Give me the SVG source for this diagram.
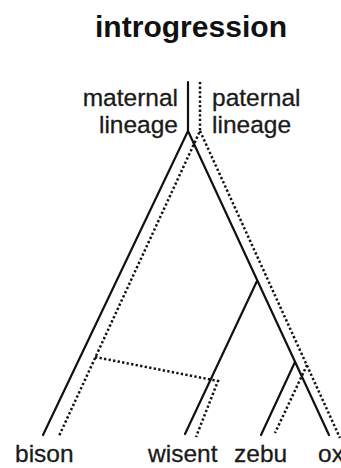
<svg xmlns="http://www.w3.org/2000/svg" width="341" height="468" viewBox="0 0 341 468">
<style>
.t{font-family:"Liberation Sans",Arial,sans-serif;font-size:24.5px;fill:#1a1a1a;stroke:#1a1a1a;stroke-width:0.3}
.h{font-family:"Liberation Sans",Arial,sans-serif;font-size:29px;font-weight:bold;fill:#111}
.s{stroke:#111;stroke-width:2.2;fill:none;stroke-linecap:round}
.d{stroke:#111;stroke-width:2.5;fill:none;stroke-dasharray:2.3 2.3}
</style>
<rect width="341" height="468" fill="#fff"/>
<text class="h" x="95" y="37" textLength="192" lengthAdjust="spacingAndGlyphs">introgression</text>
<g id="labels">
<text class="t" x="178" y="106" text-anchor="end">maternal</text>
<text class="t" x="178" y="133" text-anchor="end">lineage</text>
<text class="t" x="212" y="106">paternal</text>
<text class="t" x="212" y="133">lineage</text>
</g>
<g id="bison"><text class="t" x="15" y="462">bison</text></g>
<g id="wisent"><text class="t" x="148" y="462">wisent</text></g>
<g id="zebu"><text class="t" x="234" y="462">zebu</text></g>
<g id="ox"><text class="t" x="318" y="462">ox</text></g>
<g id="connectors">
<path class="s" d="M188 82 V131 L43 435 M188 131 L329 435 M257 281 L185 434 M295 362 L261 435"/>
<path class="d" d="M200 82 V131 L59 436 M200 131 L340 438 M95 357 L218 381 L196 437 M307 365 L275 433"/>
</g>
</svg>
